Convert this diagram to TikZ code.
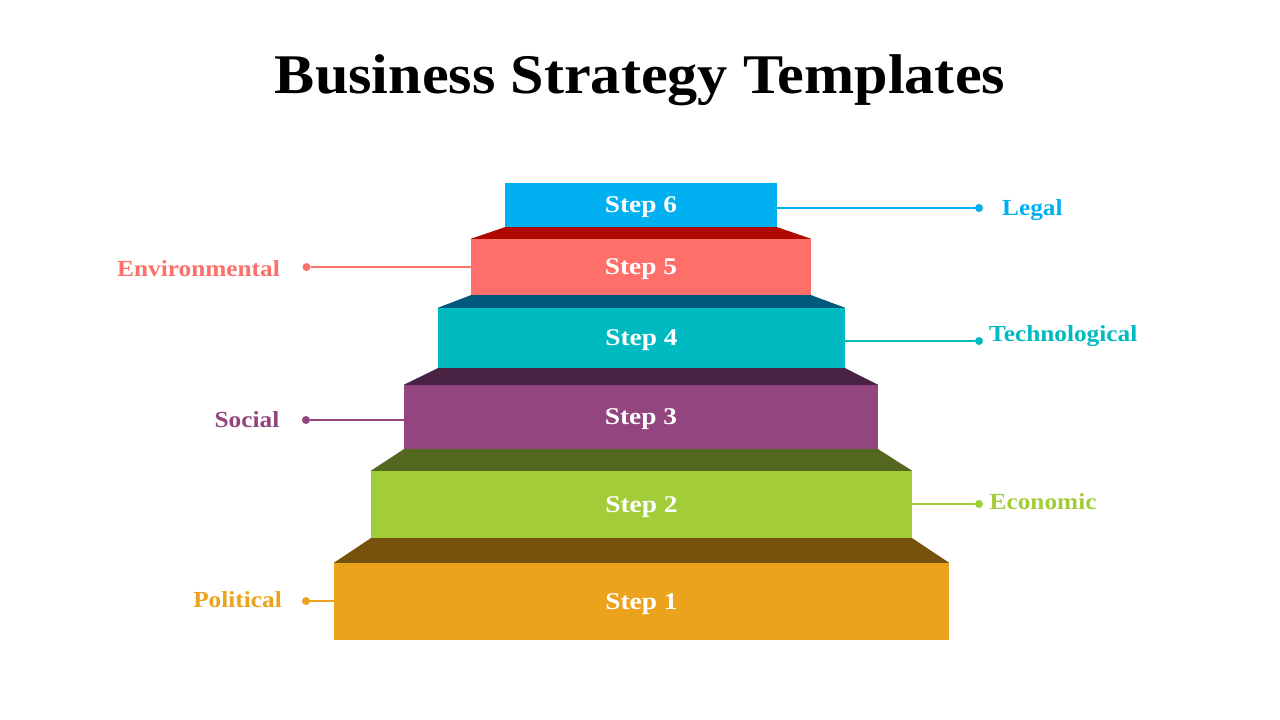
\documentclass[tikz,border=0pt]{standalone}
\usepackage{fontspec}
\setmainfont{Liberation Serif}
\newfontfamily\titlef[FakeStretch=1.075]{Liberation Serif}
\newfontfamily\stepf[FakeStretch=1.14]{Liberation Serif}
\newfontfamily\lblf[FakeStretch=1.1]{Liberation Serif}
\definecolor{cSix}{HTML}{00B0F0}
\definecolor{cFive}{HTML}{FF6F69}
\definecolor{cFour}{HTML}{00BAC2}
\definecolor{cThree}{HTML}{93457F}
\definecolor{cTwo}{HTML}{A2CD39}
\definecolor{cOne}{HTML}{EBA31D}
\definecolor{tFive}{HTML}{B00A00}
\definecolor{tFour}{HTML}{00587A}
\definecolor{tThree}{HTML}{482242}
\definecolor{tTwo}{HTML}{53681E}
\definecolor{tOne}{HTML}{76520B}
\begin{document}
\begin{tikzpicture}[x=1pt,y=-1pt,
  stepbox/.style={rectangle,inner sep=0pt,text=white,text depth=0pt,font=\stepf\bfseries\fontsize{24}{28}\selectfont},
  lbl/.style={inner sep=0pt,font=\lblf\bfseries\fontsize{23}{28}\selectfont},
  conn/.style={line width=1.8pt},
  dotc/.style={circle,inner sep=0pt,minimum size=8pt}]
\useasboundingbox (0,0) rectangle (1280,720);
\fill[white] (0,0) rectangle (1280,720);
\node[anchor=base,inner sep=0pt,font=\titlef\bfseries\fontsize{56}{62}\selectfont] (title) at (640,93) {Business Strategy Templates};

\node[stepbox,fill=cSix,minimum width=272pt,minimum height=44pt] (s6) at (641,205) {Step 6};
\node[stepbox,fill=cFive,minimum width=340pt,minimum height=56pt] (s5) at (641,267) {Step 5};
\node[stepbox,fill=cFour,minimum width=407pt,minimum height=60pt] (s4) at (641.5,338) {Step 4};
\node[stepbox,fill=cThree,minimum width=474pt,minimum height=64pt] (s3) at (641,417) {Step 3};
\node[stepbox,fill=cTwo,minimum width=541pt,minimum height=67pt] (s2) at (641.5,504.5) {Step 2};
\node[stepbox,fill=cOne,minimum width=615pt,minimum height=77pt] (s1) at (641.5,601.5) {Step 1};

\fill[tFive] (s6.south west) -- (s6.south east) -- (s5.north east) -- (s5.north west) -- cycle;
\fill[tFour] (s5.south west) -- (s5.south east) -- (s4.north east) -- (s4.north west) -- cycle;
\fill[tThree] (s4.south west) -- (s4.south east) -- (s3.north east) -- (s3.north west) -- cycle;
\fill[tTwo] (s3.south west) -- (s3.south east) -- (s2.north east) -- (s2.north west) -- cycle;
\fill[tOne] (s2.south west) -- (s2.south east) -- (s1.north east) -- (s1.north west) -- cycle;

% labels
\node[dotc,fill=cSix] (d6) at (979,208) {};
\node[lbl,text=cSix,anchor=base west] (l6) at (1002,215) {Legal};
\draw[conn,cSix] (s6.east |- d6) -- (d6);

\node[dotc,fill=cFive] (d5) at (306.5,267) {};
\node[lbl,text=cFive,anchor=base east] (l5) at (280,276) {Environmental};
\draw[conn,cFive] (d5) -- (s5.west |- d5);

\node[dotc,fill=cFour] (d4) at (979,341) {};
\node[lbl,text=cFour,anchor=base west] (l4) at (989,341.5) {Technological};
\draw[conn,cFour] (s4.east |- d4) -- (d4);

\node[dotc,fill=cThree] (d3) at (306,420) {};
\node[lbl,text=cThree,anchor=base east] (l3) at (279.5,427.5) {Social};
\draw[conn,cThree] (d3) -- (s3.west |- d3);

\node[dotc,fill=cTwo] (d2) at (979,504) {};
\node[lbl,text=cTwo,anchor=base west] (l2) at (989.5,509) {Economic};
\draw[conn,cTwo] (s2.east |- d2) -- (d2);

\node[dotc,fill=cOne] (d1) at (306,601) {};
\node[lbl,text=cOne,anchor=base east] (l1) at (282,607.5) {Political};
\draw[conn,cOne] (d1) -- (s1.west |- d1);
\end{tikzpicture}
\end{document}
